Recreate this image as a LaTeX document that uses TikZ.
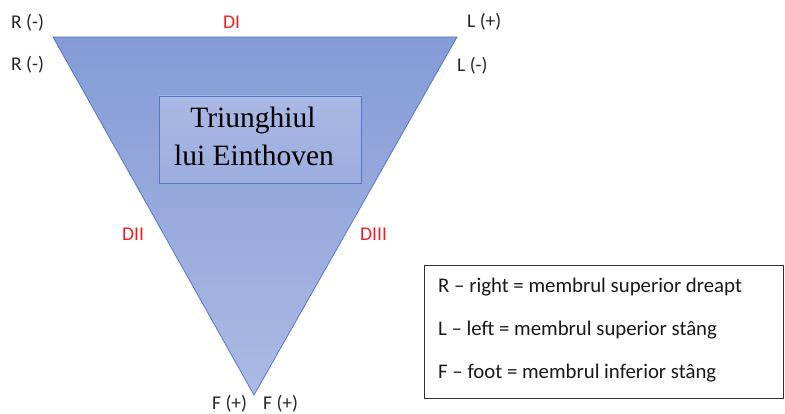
\documentclass[tikz,border=0pt]{standalone}
\usepackage{fontspec}
\setmainfont{Carlito}
\newfontfamily\boxserif{Liberation Serif}
\usetikzlibrary{positioning,calc}
\definecolor{trifill}{RGB}{132,155,214}
\definecolor{trifillb}{RGB}{172,186,228}
\definecolor{triedge}{RGB}{84,120,200}
\definecolor{boxfill}{RGB}{170,184,228}
\definecolor{boxfillb}{RGB}{156,173,222}
\definecolor{leadred}{RGB}{240,30,35}
\tikzset{
  % etichete
  pol/.style={font=\fontsize{19.5}{22}\selectfont,text=black!85,inner sep=0pt,anchor=base west},
  lead/.style={pol,text=leadred},
  legline/.style={pol,font=\fontsize{20.8}{24}\selectfont,text=black!90},
  legbox/.style={draw=black!80,line width=0.9pt,fill=white,inner sep=0pt},
  titlebox/.style={draw=triedge,line width=0.8pt,top color=boxfill,bottom color=boxfillb,
             inner sep=0pt,minimum width=202,minimum height=87},
  titletext/.style={font=\boxserif\fontsize{29.5}{34}\selectfont,inner sep=0pt,anchor=base},
}

\begin{document}
\begin{tikzpicture}[x=1pt,y=-1pt]
\useasboundingbox (0,0) rectangle (785,414);
  \coordinate (ra) at (53,37);
  \coordinate (la) at (457,37);
  \coordinate (fl) at (254,395);
  \shade[top color=trifill,bottom color=trifillb,draw=triedge,line width=0.8pt,line join=miter]
    (ra) -- (la) -- (fl) -- cycle;
  \node[titlebox] (tb) at (260,139.5) {};
  \node[titletext] (t1) at (253,128) {Triunghiul};
  \node[titletext] (t2) at (254,166) {lui Einthoven};
  % electrozi
  \node[pol] (r1) at (11,29) {R (-)};
  \node[pol] (r2) at (11,71) {R (-)};
  \node[pol] (l1) at (467,28) {L (+)};
  \node[pol] (l2) at (457,72) {L (-)};
  \node[pol] (f1) at (212,409) {F (+)};
  \node[pol] (f2) at (263,409) {F (+)};
  % derivatii
  \node[lead] (d1) at (223,29) {DI};
  \node[lead] (d2) at (122,241) {DII};
  \node[lead] (d3) at (360,241) {DIII};
  % legenda
  \node[legbox,minimum width=359,minimum height=133] (leg) at (603.5,331.5) {};
  \node[legline] (lr) at (438,293) {R -- right = membrul superior dreapt};
  \node[legline] (ll) at (438,335) {L -- left = membrul superior stâng};
  \node[legline] (lf) at (438,378) {F -- foot = membrul inferior stâng};
\end{tikzpicture}
\end{document}
